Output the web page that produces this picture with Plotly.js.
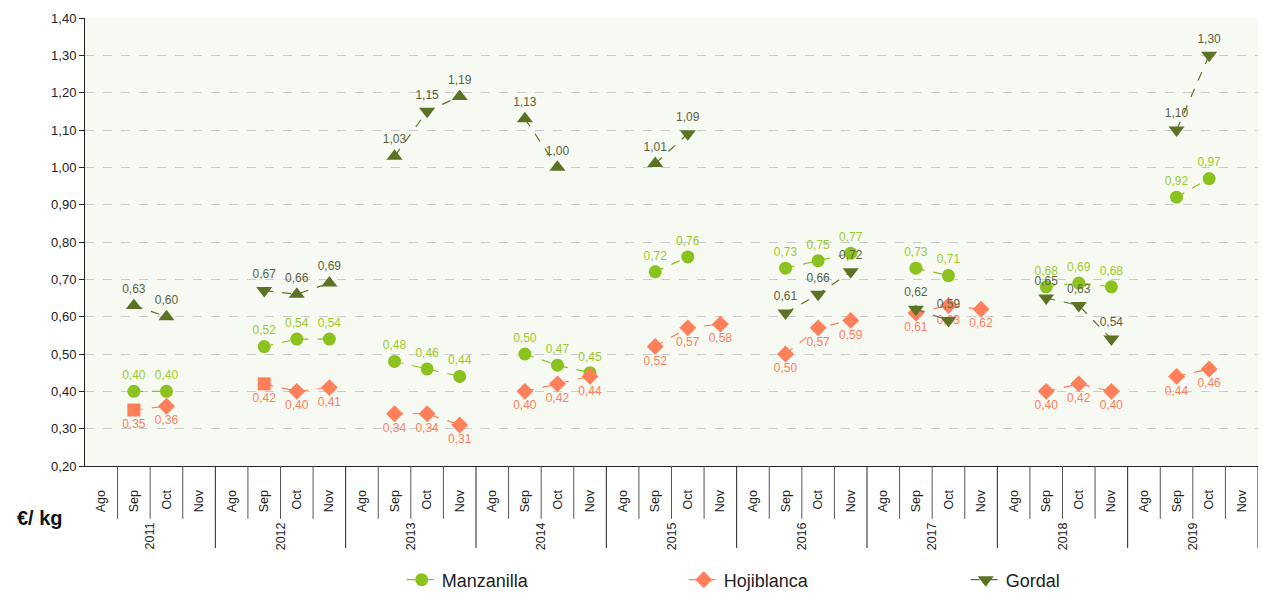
<!DOCTYPE html>
<html>
<head>
<meta charset="utf-8">
<script src="https://cdn.plot.ly/plotly-3.0.1.min.js"></script>
<style>
html,body{margin:0;padding:0;background:#fff;}
#chart{width:1263px;height:593px;}
</style>
</head>
<body>
<div id="chart"></div>
<script>
// ---- data ----
var years = ['2011','2012','2013','2014','2015','2016','2017','2018','2019'];
var months = ['Ago','Sep','Oct','Nov'];

var manzanilla = [
  null, 0.40, 0.40, null,
  null, 0.52, 0.54, 0.54,
  null, 0.48, 0.46, 0.44,
  null, 0.50, 0.47, 0.45,
  null, 0.72, 0.76, null,
  null, 0.73, 0.75, 0.77,
  null, 0.73, 0.71, null,
  null, 0.68, 0.69, 0.68,
  null, 0.92, 0.97, null
];
var hojiblanca = [
  null, 0.35, 0.36, null,
  null, 0.42, 0.40, 0.41,
  null, 0.34, 0.34, 0.31,
  null, 0.40, 0.42, 0.44,
  null, 0.52, 0.57, 0.58,
  null, 0.50, 0.57, 0.59,
  null, 0.61, 0.63, 0.62,
  null, 0.40, 0.42, 0.40,
  null, 0.44, 0.46, null
];
var gordal = [
  null, 0.63, 0.60, null,
  null, 0.67, 0.66, 0.69,
  null, 1.03, 1.15, 1.19,
  null, 1.13, 1.00, null,
  null, 1.01, 1.09, null,
  null, 0.61, 0.66, 0.72,
  null, 0.62, 0.59, null,
  null, 0.65, 0.63, 0.54,
  null, 1.10, 1.30, null
];

// ---- derived ----
var idx = [], tickText = [];
years.forEach(function(y, yi){ months.forEach(function(m, mi){ idx.push(yi*4+mi); tickText.push(m); }); });
var yearPos = years.map(function(y, yi){ return yi*4 + 1.5; });
function lbl(arr){ return arr.map(function(v){ return v==null ? '' : v.toFixed(2).replace('.', ','); }); }

// per-point marker symbols (style, as in the original rendering)
var gSym = idx.map(function(){ return 'triangle-down'; });
[1,2,6,7,9,11,13,14,17].forEach(function(i){ gSym[i] = 'triangle-up'; });
var hSym = idx.map(function(){ return 'diamond'; });
[1,5].forEach(function(i){ hSym[i] = 'square'; });

var cM = '#8cc21e', cH = '#ff7f5b', cG = '#5c7326';
var font = 'Liberation Sans, Arial, sans-serif';

var traces = [
  {name:'Manzanilla', x:idx, y:manzanilla, text:lbl(manzanilla), mode:'lines+markers+text',
   textposition:'top center', textfont:{color:'#9ccc2a', size:12, family:font},
   line:{color:cM, width:1.2, dash:'dash'}, marker:{symbol:'circle', size:13, color:cM},
   connectgaps:false, cliponaxis:false, hoverinfo:'skip'},
  {name:'Hojiblanca', x:idx, y:hojiblanca, text:lbl(hojiblanca), mode:'lines+markers+text',
   textposition:'bottom center', textfont:{color:'#ff7f5b', size:12, family:font},
   line:{color:cH, width:1.2, dash:'dash'}, marker:{symbol:hSym, size:13, color:cH},
   connectgaps:false, cliponaxis:false, hoverinfo:'skip'},
  {name:'Gordal', x:idx, y:gordal, text:lbl(gordal), mode:'lines+markers+text', xaxis:'x2',
   textposition:'top center', textfont:{color:'#5a6440', size:12, family:font},
   line:{color:cG, width:1.2, dash:'dash'}, marker:{symbol:gSym, size:14, color:cG},
   connectgaps:false, cliponaxis:false, hoverinfo:'skip'}
];

var shapes = [];
for (var b = 1; b <= idx.length; b++) {
  var yearEdge = (b % 4 === 0);
  shapes.push({type:'line', xref:'x', yref:'paper', x0:b-0.5, x1:b-0.5, y0:0,
    y1: yearEdge ? -0.183 : -0.118,
    line:{color: yearEdge ? '#222' : '#555', width:1}});
}
var annotations = [{text:'<b>€/ kg</b>', xref:'paper', yref:'paper', x:-0.038, y:-0.115,
  showarrow:false, xanchor:'center', yanchor:'middle', font:{size:20, color:'#111', family:font}}];

var layout = {
  width:1263, height:593,
  margin:{l:85, r:5, t:18, b:127},
  paper_bgcolor:'#ffffff', plot_bgcolor:'#f7f9f3',
  showlegend:true,
  legend:{orientation:'h', x:0.27, xanchor:'left', yref:'container', y:0.022, yanchor:'middle',
    font:{size:18, color:'#222', family:font}, entrywidth:237, traceorder:'normal'},
  xaxis:{range:[-0.5, idx.length-0.5], tickvals:idx, ticktext:tickText, tickangle:-90,
    ticks:'', showgrid:false, zeroline:false, showline:true, linecolor:'#222', linewidth:1,
    ticklabelstandoff:18, tickfont:{size:12.5, color:'#222', family:font}},
  xaxis2:{overlaying:'x', anchor:'y', side:'bottom', range:[-0.5, idx.length-0.5],
    tickvals:yearPos, ticktext:years, tickangle:-90, ticks:'', showgrid:false, zeroline:false,
    showline:false, ticklabelstandoff:53, tickfont:{size:12.5, color:'#222', family:font}},
  yaxis:{range:[0.2, 1.4], dtick:0.1, tick0:0.2, tickformat:'.2f', ticks:'outside', ticklen:5,
    tickcolor:'#222', showline:true, linecolor:'#222', linewidth:1, zeroline:false,
    gridcolor:'#c9cccc', griddash:'dash', gridwidth:1,
    tickfont:{size:13, color:'#222', family:font}},
  separators:',.',
  shapes:shapes, annotations:annotations
};

Plotly.newPlot('chart', traces, layout, {displayModeBar:false, staticPlot:true});
</script>
</body>
</html>
